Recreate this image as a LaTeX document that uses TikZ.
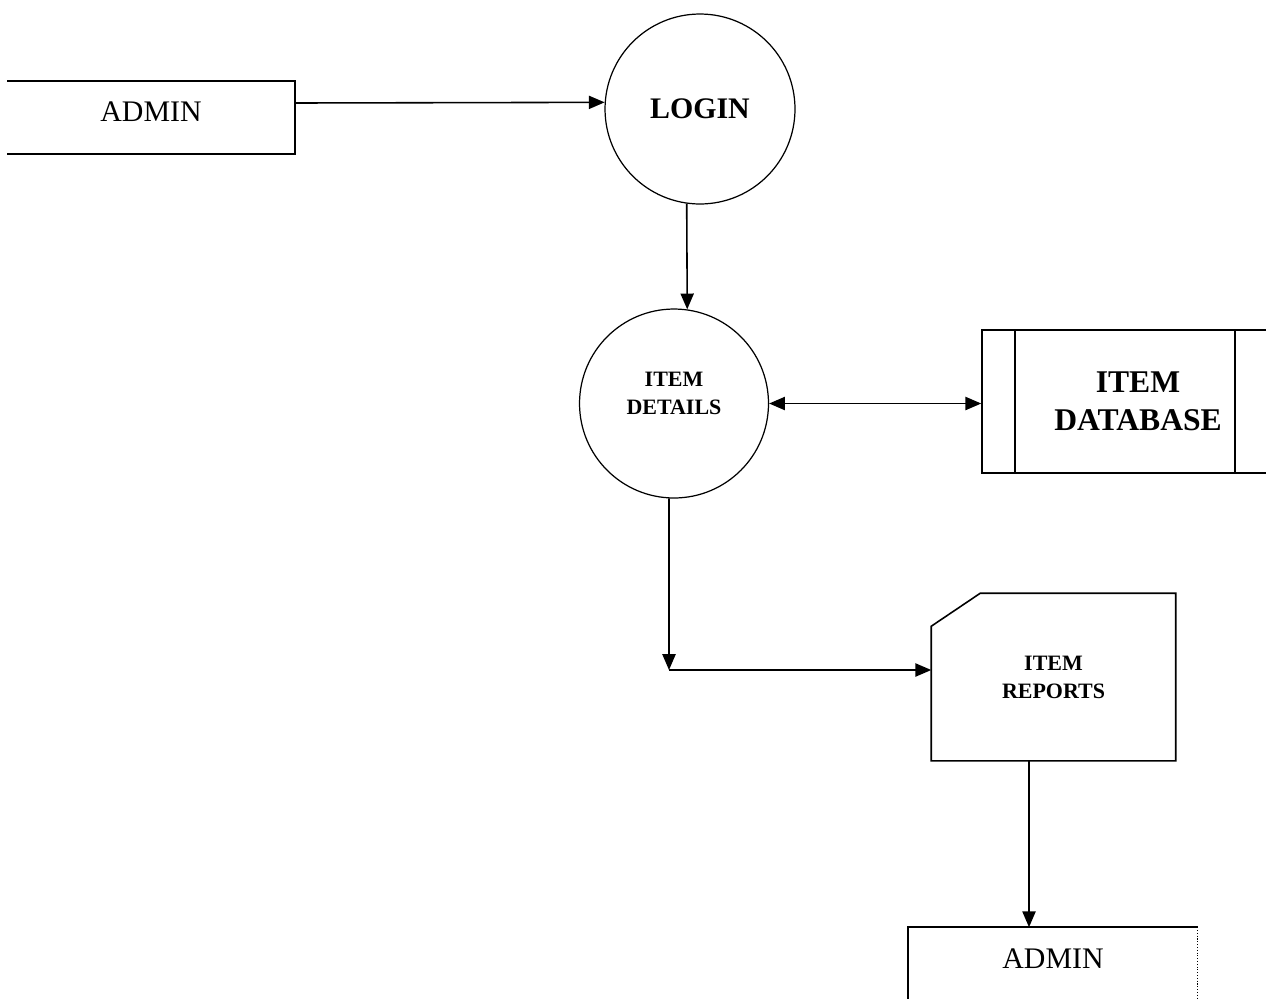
\documentclass[tikz,border=0pt]{standalone}
\usepackage{fontspec}
\setmainfont{Liberation Serif}
\usetikzlibrary{arrows.meta,calc}
\tikzset{
  tip/.tip={Triangle[length=9pt,width=7.5pt]},
  flow/.style={-tip, line width=0.9pt},
  entity/.style={minimum width=5.72cm, minimum height=1.42cm, font=\fontsize{17}{20}\selectfont},
  process/.style={circle, draw, line width=0.7pt, align=center, font=\bfseries\fontsize{12.5}{16}\selectfont},
  store/.style={draw, minimum width=6.24cm, minimum height=2.86cm, align=center, font=\bfseries\fontsize{18}{21.5}\selectfont},
  report/.style={minimum width=4.86cm, minimum height=3.32cm, align=center, font=\bfseries\fontsize{12.5}{16}\selectfont},
}
\begin{document}
\begin{tikzpicture}[x=0.02cm, y=-0.02cm, line width=0.9pt]
\useasboundingbox (0,0) rectangle (1266,998);

\node[entity, text depth=7pt] (admin1) at (151,117.5) {ADMIN};
\node[process, minimum size=3.8cm, font=\bfseries\fontsize{17}{20}\selectfont] (login) at (700,109) {LOGIN};

\node[process, minimum size=3.78cm, text depth=11.5pt] (details) at (674,403.5) {ITEM\\DETAILS};
\node[store] (database) at (1138,401.5) {ITEM\\DATABASE};

\node[report] (reports) at (1053.5,677) {ITEM\\REPORTS};
\node[entity, minimum width=5.76cm, text depth=5.5pt] (admin2) at (1053,963.5) {ADMIN};

\draw (admin1.north west) -- (admin1.north east) -- (admin1.south east) -- (admin1.south west);
\draw (admin2.south west) -- (admin2.north west) -- (admin2.north east);
\draw[densely dotted, line width=0.6pt] (admin2.north east) -- (admin2.south east);

\draw ([xshift=0.68cm]database.north west) -- ([xshift=0.68cm]database.south west);
\draw ([xshift=5.08cm]database.north west) -- ([xshift=5.08cm]database.south west);

\draw ($(reports.north west)+(0,33)$) -- ($(reports.north west)+(49,0)$) -- (reports.north east)
  -- (reports.south east) -- (reports.south west) -- cycle;

\coordinate (bend) at (669,670);

\draw[flow] ([yshift=0.29cm]admin1.east) -- (login.176);
\draw[flow] (login.262) -- (details.82);
\draw[flow, tip-tip] (details.east) -- (details.east -| database.west);
\draw[flow] (details.267) -- (bend);
\draw[flow] (bend) -- (bend -| reports.west);
\draw[flow] ([xshift=-0.49cm]reports.south) -- ([xshift=-0.49cm]reports.south |- admin2.north);
\end{tikzpicture}
\end{document}
